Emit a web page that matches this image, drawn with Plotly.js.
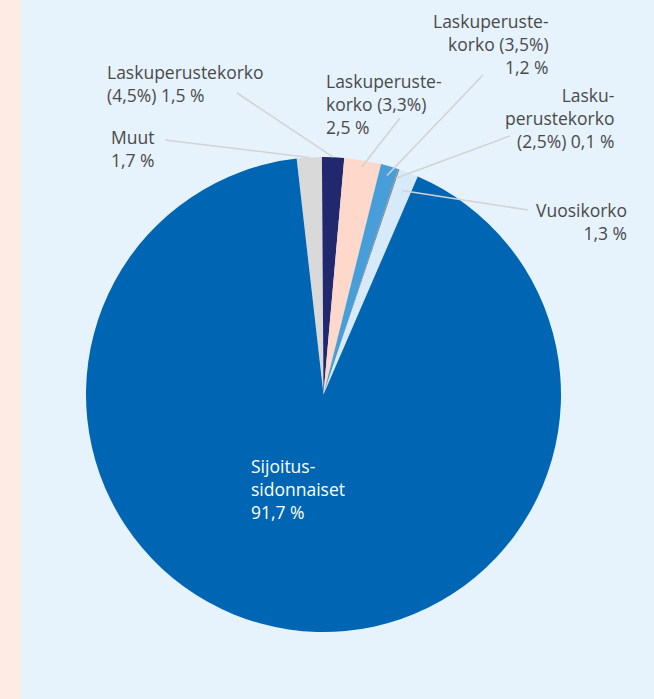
<!DOCTYPE html>
<html>
<head>
<meta charset="utf-8">
<script src="https://cdn.plot.ly/plotly-3.0.1.min.js"></script>
<style>
  html, body { margin: 0; padding: 0; width: 654px; height: 699px; overflow: hidden; background: #e6f3fd; }
  #strip { position: absolute; left: 0; top: 0; width: 21px; height: 699px; background: #feebe4; }
  #chart { position: absolute; left: 0; top: 0; width: 654px; height: 699px; }
</style>
</head>
<body>
<div id="strip"></div>
<div id="chart"></div>
<script>
// ---- data ----
const categories = [
  'Muut',
  'Laskuperustekorko (4,5%)',
  'Laskuperustekorko (3,3%)',
  'Laskuperustekorko (3,5%)',
  'Laskuperustekorko (2,5%)',
  'Vuosikorko',
  'Sijoitussidonnaiset'
];
const shares = [1.7, 1.5, 2.5, 1.2, 0.1, 1.3, 91.7];
const labelTexts = [
  'Muut<br>1,7 %',
  'Laskuperustekorko<br>(4,5%) 1,5 %',
  'Laskuperuste-<br>korko (3,3%)<br>2,5 %',
  'Laskuperuste-<br>korko (3,5%)<br>1,2 %',
  'Lasku-<br>perustekorko<br>(2,5%) 0,1 %',
  'Vuosikorko<br>1,3 %',
  'Sijoitus-<br>sidonnaiset<br>91,7 %'
];
const colors = ['#d9d9d9', '#22286e', '#fdd8cb', '#479ed8', '#8a8a8a', '#d6eaf9', '#0066b3'];

// ---- layout geometry (pixels) ----
const W = 654, H = 699;
const cx = 323.5, cy = 394.5, R = 237.5;
const rotation = -6.5;
// label placement: [x, y(center), anchor, tailX, tailY, tipRadiusFactor]
const labelPos = [
  [109, 149, 'left', 165, 140, 1.0],
  [105, 83, 'left', 237, 93, 1.0],
  [324, 104.5, 'left', 400, 118, 0.97],
  [551, 44.5, 'right', 483, 75, 0.96],
  [616, 118, 'right', 510, 136, 0.96],
  [629, 221, 'right', 528, 210, 0.92],
  [249, 489, 'left', null, null, 0]
];

const px = x => x / W;
const py = y => 1 - y / H;

const total = shares.reduce((a, b) => a + b, 0);
let cum = 0;
const annotations = [];
const shapes = [];
shares.forEach((v, i) => {
  const midDeg = rotation + (cum + v / 2) / total * 360;
  cum += v;
  const a = midDeg * Math.PI / 180;
  const [lx, ly, anch, tx, ty, k] = labelPos[i];
  const inside = i === shares.length - 1;
  annotations.push({
    xref: 'paper', yref: 'paper', x: px(lx), y: py(ly),
    xanchor: anch, yanchor: 'middle', align: anch,
    showarrow: false, text: labelTexts[i],
    font: { family: '"Open Sans", sans-serif', size: 17.5, color: inside ? '#ffffff' : '#4a4a4a' }
  });
  if (tx !== null) {
    const tipX = cx + R * k * Math.sin(a);
    const tipY = cy - R * k * Math.cos(a);
    shapes.push({
      type: 'line', xref: 'paper', yref: 'paper',
      x0: px(tx), y0: py(ty), x1: px(tipX), y1: py(tipY),
      line: { color: '#d3d3d3', width: 1.6 }, layer: 'above'
    });
  }
});

const trace = {
  type: 'pie',
  labels: categories,
  values: shares,
  sort: false,
  direction: 'clockwise',
  rotation: rotation,
  textinfo: 'none',
  hoverinfo: 'label+percent',
  marker: { colors: colors, line: { width: 0 } },
  domain: { x: [px(cx - R), px(cx + R)], y: [py(cy + R), py(cy - R)] },
  showlegend: false
};

const layout = {
  width: W, height: H,
  margin: { l: 0, r: 0, t: 0, b: 0 },
  paper_bgcolor: 'rgba(0,0,0,0)',
  plot_bgcolor: 'rgba(0,0,0,0)',
  showlegend: false,
  annotations: annotations,
  shapes: shapes
};

Plotly.newPlot('chart', [trace], layout, { displayModeBar: false, staticPlot: true });
</script>
</body>
</html>
